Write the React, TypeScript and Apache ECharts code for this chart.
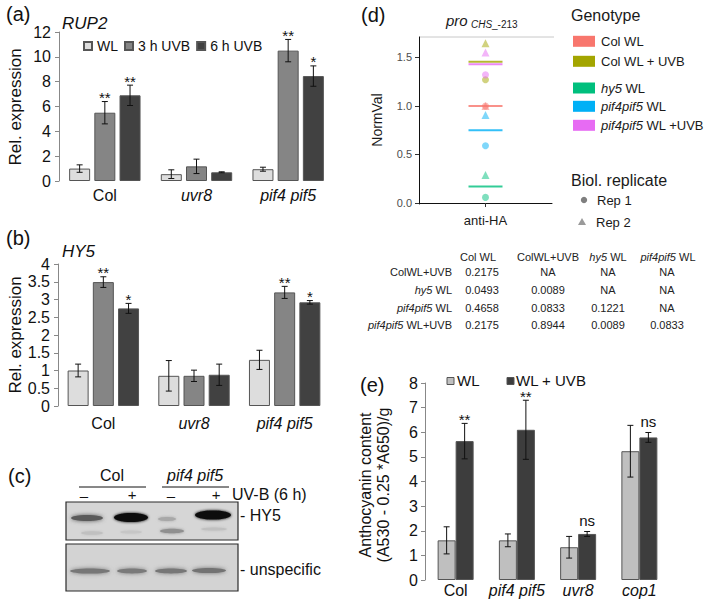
import React, { useEffect, useRef } from "react";
import * as echarts from "echarts";

const FONT = "'Liberation Sans', Arial, Helvetica, sans-serif";

// ---------- (a) RUP2 / (b) HY5 qPCR ----------
const qpcrCategories = ["Col", "uvr8", "pif4 pif5"];
const qpcrSeriesNames = ["WL", "3 h UVB", "6 h UVB"];
const qpcrColors = ["#dddddd", "#858585", "#414141"];

const rup2WL = [1.0, 0.55, 0.95];
const rup2UVB3 = [5.5, 1.18, 10.5];
const rup2UVB6 = [6.9, 0.7, 8.45];
const rup2ErrWL = [0.3, 0.35, 0.16];
const rup2ErrUVB3 = [0.9, 0.58, 0.9];
const rup2ErrUVB6 = [0.82, 0.04, 0.82];
const rup2MarksUVB3 = ["**", "", "**"];
const rup2MarksUVB6 = ["**", "", "*"];

const hy5WL = [1.0, 0.85, 1.3];
const hy5UVB3 = [3.49, 0.85, 3.2];
const hy5UVB6 = [2.75, 0.88, 2.92];
const hy5ErrWL = [0.18, 0.43, 0.27];
const hy5ErrUVB3 = [0.15, 0.16, 0.17];
const hy5ErrUVB6 = [0.14, 0.3, 0.05];
const hy5MarksUVB3 = ["**", "", "**"];
const hy5MarksUVB6 = ["*", "", "*"];

// ---------- (d) ChIP ----------
const chipCategory = ["anti-HA"];
const genotypes = ["Col WL", "Col WL + UVB", "hy5 WL", "pif4pif5 WL", "pif4pif5 WL +UVB"];
const genotypeColors = ["#F8766D", "#A3A500", "#00BF7D", "#00B0F6", "#E76BF3"];
const chipRep1 = [1.0, 1.27, 0.058, 0.59, 1.32];
const chipRep2 = [1.0, 1.646, 0.289, 0.907, 1.55];
const chipMeans = [1.0, 1.455, 0.17, 0.75, 1.43];
const chipTicks = [0, 0.5, 1.0, 1.5];

const tableHeaders = ["Col WL", "ColWL+UVB", "hy5 WL", "pif4pif5 WL"];
const tableRows = ["ColWL+UVB", "hy5 WL", "pif4pif5 WL", "pif4pif5 WL+UVB"];
const tableValues = [
  ["0.2175", "NA", "NA", "NA"],
  ["0.0493", "0.0089", "NA", "NA"],
  ["0.4658", "0.0833", "0.1221", "NA"],
  ["0.2175", "0.8944", "0.0089", "0.0833"],
];

// ---------- (e) Anthocyanin ----------
const anthoCategories = ["Col", "pif4 pif5", "uvr8", "cop1"];
const anthoSeriesNames = ["WL", "WL + UVB"];
const anthoColors = ["#bfbfbf", "#3d3d3d"];
const anthoWL = [1.61, 1.61, 1.33, 5.23];
const anthoErrWL = [0.55, 0.26, 0.44, 1.05];
const anthoUVB = [5.64, 6.1, 1.87, 5.79];
const anthoErrUVB = [0.72, 1.2, 0.1, 0.2];
const anthoMarksUVB = ["**", "**", "ns", "ns"];
const anthoMarksWL = ["", "", "", ""];

function errSeries(
  xi: number,
  yi: number,
  values: number[],
  errs: number[],
  marks: string[],
  offset: number,
  cap: number
) {
  return {
    type: "custom",
    xAxisIndex: xi,
    yAxisIndex: yi,
    z: 10,
    encode: { x: 0, y: 1 },
    data: values.map((v, i) => [i, v, errs[i]]),
    renderItem: (params: any, api: any) => {
      const i = api.value(0);
      const v = api.value(1);
      const e = api.value(2);
      const top = api.coord([i, v + e]);
      const bot = api.coord([i, v - e]);
      const x = top[0] + offset;
      const ls = { stroke: "#111", lineWidth: 1 };
      const children: any[] = [
        { type: "line", shape: { x1: x, y1: top[1], x2: x, y2: bot[1] }, style: ls },
        { type: "line", shape: { x1: x - cap, y1: top[1], x2: x + cap, y2: top[1] }, style: ls },
        { type: "line", shape: { x1: x - cap, y1: bot[1], x2: x + cap, y2: bot[1] }, style: ls },
      ];
      const m = marks[params.dataIndex];
      if (m) {
        children.push({
          type: "text",
          style: {
            text: m,
            x,
            y: top[1] + (m === "ns" ? -11 : -4),
            align: "center",
            verticalAlign: "middle",
            fontSize: 15,
            fontFamily: FONT,
            fill: "#111",
          },
        });
      }
      return { type: "group", children };
    },
  };
}

const italicRich = (fs: number) => ({
  i: { fontStyle: "italic", fontSize: fs, fontFamily: FONT, color: "#111" },
});

const catLabel = (fs: number, margin: number) => ({
  margin,
  interval: 0,
  fontSize: fs,
  fontFamily: FONT,
  color: "#111",
  formatter: (v: string) => (v === "Col" ? v : `{i|${v}}`),
  rich: italicRich(fs),
});

const valueAxis = (gi: number, min: number, max: number, interval: number) => ({
  gridIndex: gi,
  type: "value",
  min,
  max,
  interval,
  axisLine: { show: true, lineStyle: { color: "#888" } },
  axisTick: { show: true, length: 4, lineStyle: { color: "#888" } },
  axisLabel: { fontSize: 16, color: "#111", fontFamily: FONT, margin: 8 },
  splitLine: { show: false },
});

const gRich = (fs: number, fill = "#1a1a1a") => ({
  i: { fontStyle: "italic", fontSize: fs, fontFamily: FONT, fill },
});
const richify = (s: string) => s.replace(/(hy5|pif4pif5)/g, "{i|$1}");

const txt = (text: string, x: number, y: number, extra: any = {}, el: any = {}) => ({
  type: "text",
  x,
  y,
  ...el,
  style: {
    text,
    fontSize: 16,
    fontFamily: FONT,
    fill: "#111",
    align: "left",
    verticalAlign: "middle",
    ...extra,
  },
});

export default function App() {
  const ref = useRef<HTMLDivElement>(null);

  useEffect(() => {
    if (!ref.current) return;
    const chart = echarts.init(ref.current, undefined, { renderer: "svg" });

    const barCommon = (xi: number, yi: number, color: string, name: string, data: number[], bw: number, gap: string) => ({
      type: "bar",
      name,
      xAxisIndex: xi,
      yAxisIndex: yi,
      data,
      barWidth: bw,
      barGap: gap,
      itemStyle: { color, borderColor: "#555", borderWidth: 1 },
    });

    const qOff = 25.2;
    const series: any[] = [
      // (a)
      barCommon(0, 0, qpcrColors[0], qpcrSeriesNames[0], rup2WL, 21, "20%"),
      barCommon(0, 0, qpcrColors[1], qpcrSeriesNames[1], rup2UVB3, 21, "20%"),
      barCommon(0, 0, qpcrColors[2], qpcrSeriesNames[2], rup2UVB6, 21, "20%"),
      errSeries(0, 0, rup2WL, rup2ErrWL, ["", "", ""], -qOff, 3),
      errSeries(0, 0, rup2UVB3, rup2ErrUVB3, rup2MarksUVB3, 0, 3),
      errSeries(0, 0, rup2UVB6, rup2ErrUVB6, rup2MarksUVB6, qOff, 3),
      // (b)
      barCommon(1, 1, qpcrColors[0], qpcrSeriesNames[0], hy5WL, 21, "20%"),
      barCommon(1, 1, qpcrColors[1], qpcrSeriesNames[1], hy5UVB3, 21, "20%"),
      barCommon(1, 1, qpcrColors[2], qpcrSeriesNames[2], hy5UVB6, 21, "20%"),
      errSeries(1, 1, hy5WL, hy5ErrWL, ["", "", ""], -qOff, 3),
      errSeries(1, 1, hy5UVB3, hy5ErrUVB3, hy5MarksUVB3, 0, 3),
      errSeries(1, 1, hy5UVB6, hy5ErrUVB6, hy5MarksUVB6, qOff, 3),
      // (e)
      barCommon(3, 3, anthoColors[0], anthoSeriesNames[0], anthoWL, 18, "0%"),
      barCommon(3, 3, anthoColors[1], anthoSeriesNames[1], anthoUVB, 18, "0%"),
      errSeries(3, 3, anthoWL, anthoErrWL, anthoMarksWL, -9, 3),
      errSeries(3, 3, anthoUVB, anthoErrUVB, anthoMarksUVB, 9, 3),
      // (d) means
      {
        type: "scatter",
        xAxisIndex: 2,
        yAxisIndex: 2,
        symbol: "rect",
        symbolSize: [34, 2],
        z: 2,
        data: chipMeans.map((m, i) => ({ value: [chipCategory[0], m], itemStyle: { color: genotypeColors[i] } })),
      },
      // (d) points
      ...genotypes.map((g, i) => ({
        type: "scatter",
        name: g,
        xAxisIndex: 2,
        yAxisIndex: 2,
        z: 3,
        itemStyle: { color: genotypeColors[i], opacity: 0.5 },
        data: [
          { value: [chipCategory[0], chipRep2[i]], symbol: "triangle", symbolSize: 8 },
          { value: [chipCategory[0], chipRep1[i]], symbol: "circle", symbolSize: 7 },
        ],
      })),
    ];

    const blot: any[] = [
      { type: "rect", shape: { x: 66, y: 502, width: 172, height: 38 }, style: { fill: "#d6d6d6", stroke: "#2a2a2a", lineWidth: 1.2 } },
      { type: "rect", shape: { x: 66, y: 544, width: 172, height: 47 }, style: { fill: "#d3d3d3", stroke: "#2a2a2a", lineWidth: 1.2 } },
    ];
    const band = (cx: number, cy: number, rx: number, ry: number, fill: string, blur = 3) => ({
      type: "ellipse",
      shape: { cx, cy, rx, ry },
      style: { fill, shadowBlur: blur, shadowColor: fill },
    });
    blot.push(
      band(87, 518, 16, 3, "#5a5a5a", 4),
      band(131, 517.5, 17, 4.5, "#111111"),
      band(167, 519, 9, 2, "#a8a8a8"),
      band(213, 515, 18, 4.5, "#111111"),
      band(92, 533, 11, 1.8, "#c0c0c0"),
      band(131, 532, 11, 1.6, "#c6c6c6"),
      band(172, 531, 12, 2.3, "#909090"),
      band(214, 529, 13, 1.6, "#c0c0c0"),
      band(90, 571, 20, 2.6, "#777777", 4),
      band(132, 571, 15, 2.4, "#7a7a7a", 4),
      band(171, 571, 16, 2.4, "#777777", 4),
      band(209, 570.5, 17, 2.6, "#737373", 4)
    );

    const graphics: any[] = [
      // panel letters
      txt("(a)", 6, 14, { fontSize: 20 }),
      txt("(b)", 6, 238, { fontSize: 20 }),
      txt("(c)", 8, 476, { fontSize: 20 }),
      txt("(d)", 361, 15, { fontSize: 20 }),
      txt("(e)", 360, 385, { fontSize: 20 }),
      // gene names
      txt("RUP2", 62, 23, { fontSize: 17, fontStyle: "italic" }),
      txt("HY5", 62, 251, { fontSize: 17, fontStyle: "italic" }),
      // y axis titles
      txt("Rel. expression", 15, 107, { fontSize: 17, align: "center" }, { rotation: Math.PI / 2 }),
      txt("Rel. expression", 15, 335, { fontSize: 17, align: "center" }, { rotation: Math.PI / 2 }),
      txt("NormVal", 377, 120, { fontSize: 14, align: "center", fill: "#1a1a1a" }, { rotation: Math.PI / 2 }),
      txt("Anthocyanin content\n(A530 - 0.25 *A650)/g", 374, 485, { fontSize: 16, align: "center", lineHeight: 18 }, { rotation: Math.PI / 2 }),
      // (e) legend
      { type: "rect", shape: { x: 447, y: 377.5, width: 7, height: 7 }, style: { fill: anthoColors[0], stroke: "#555", lineWidth: 1 } },
      txt(anthoSeriesNames[0], 457, 380.5, { fontSize: 15 }),
      { type: "rect", shape: { x: 507, y: 377.5, width: 7, height: 7 }, style: { fill: anthoColors[1], stroke: "#555", lineWidth: 1 } },
      txt(anthoSeriesNames[1], 516, 380.5, { fontSize: 15 }),
      // (c) blot annotations
      txt("Col", 112, 475, { align: "center" }),
      txt("pif4 pif5", 195, 475, { align: "center", fontStyle: "italic" }),
      { type: "line", shape: { x1: 79, y1: 487, x2: 146, y2: 487 }, style: { stroke: "#111", lineWidth: 1 } },
      { type: "line", shape: { x1: 162, y1: 487, x2: 229, y2: 487 }, style: { stroke: "#111", lineWidth: 1 } },
      txt("–", 84, 495, { align: "center", fontSize: 15 }),
      txt("+", 132, 494, { align: "center", fontSize: 15 }),
      txt("–", 171, 495, { align: "center", fontSize: 15 }),
      txt("+", 216, 494, { align: "center", fontSize: 15 }),
      txt("UV-B (6 h)", 232, 494),
      txt("- HY5", 240, 515),
      txt("- unspecific", 240, 569),
      ...blot,
      // (d) title & frame top
      txt("pro", 446, 20, { fontSize: 15, fontStyle: "italic", fill: "#1a1a1a" }),
      txt("CHS", 471, 24, { fontSize: 10, fontStyle: "italic", fill: "#1a1a1a" }),
      txt("_-213", 492, 24, { fontSize: 10, fill: "#1a1a1a" }),
      { type: "line", shape: { x1: 419, y1: 37, x2: 554, y2: 37 }, style: { stroke: "#c8c8c8", lineWidth: 1 } },
      // (d) legend
      txt("Genotype", 571, 15, { fontSize: 16, fill: "#1a1a1a" }),
      ...genotypes.flatMap((g, i) => {
        const ys = [41.3, 61.3, 88, 106.3, 125.3];
        return [
          { type: "rect", shape: { x: 573, y: ys[i] - 5.5, width: 22, height: 11 }, style: { fill: genotypeColors[i] } },
          txt(richify(g), 601, ys[i], { fontSize: 13, fill: "#1a1a1a", rich: gRich(13) }),
        ];
      }),
      txt("Biol. replicate", 571, 180, { fontSize: 16, fill: "#1a1a1a" }),
      { type: "circle", shape: { cx: 584, cy: 200, r: 3.2 }, style: { fill: "#7f7f7f" } },
      txt("Rep 1", 597, 200, { fontSize: 13, fill: "#1a1a1a" }),
      { type: "polygon", shape: { points: [[582, 218], [586, 225], [578, 225]] }, style: { fill: "#9a9a9a" } },
      txt("Rep 2", 596, 222, { fontSize: 13, fill: "#1a1a1a" }),
      // (d) table
      ...tableHeaders.map((h, j) => {
        const cx = [478, 548, 608, 668][j];
        return txt(richify(h), cx, 257, { fontSize: 11, align: "center", fill: "#222", rich: gRich(11, "#222") });
      }),
      ...tableRows.map((r, k) => {
        const y = [272.3, 290, 308.3, 325][k];
        return txt(richify(r), 452, y, { fontSize: 11, align: "right", fill: "#222", rich: gRich(11, "#222") });
      }),
      ...tableValues.flatMap((row, k) => {
        const y = [272.3, 290, 308.3, 325][k];
        return row.map((v, j) => txt(v, [482, 548, 608, 667][j], y, { fontSize: 11, align: "center", fill: "#222" }));
      }),
    ];

    const option: any = {
      animation: false,
      backgroundColor: "#ffffff",
      grid: [
        { left: 59, top: 32, width: 275, height: 149 },
        { left: 58, top: 264, width: 272, height: 142 },
        { left: 419, top: 37, width: 133, height: 167 },
        { left: 425, top: 383, width: 245, height: 197 },
      ],
      legend: [
        {
          left: 83,
          top: 39,
          padding: 0,
          itemWidth: 8,
          itemHeight: 8,
          itemGap: 6,
          icon: "rect",
          selectedMode: false,
          data: qpcrSeriesNames,
          textStyle: { fontSize: 14, fontFamily: FONT, color: "#111" },
        },
      ],
      xAxis: [
        { gridIndex: 0, type: "category", data: qpcrCategories, axisLine: { show: false }, axisTick: { show: false }, axisLabel: catLabel(16, 6) },
        { gridIndex: 1, type: "category", data: qpcrCategories, axisLine: { show: false }, axisTick: { show: false }, axisLabel: catLabel(16, 9) },
        {
          gridIndex: 2,
          type: "category",
          data: chipCategory,
          axisLine: { show: true, lineStyle: { color: "#111" } },
          axisTick: { show: true, alignWithLabel: true, length: 4, lineStyle: { color: "#333" } },
          axisLabel: { fontSize: 13, fontFamily: FONT, color: "#1a1a1a", margin: 10, interval: 0 },
        },
        { gridIndex: 3, type: "category", data: anthoCategories, axisLine: { show: false }, axisTick: { show: false }, axisLabel: catLabel(16, 2) },
      ],
      yAxis: [
        valueAxis(0, 0, 12, 2),
        valueAxis(1, 0, 4, 0.5),
        {
          gridIndex: 2,
          type: "value",
          min: -0.01,
          max: 1.71,
          axisLine: { show: true, lineStyle: { color: "#111" } },
          axisTick: { show: true, length: 4, lineStyle: { color: "#333" }, customValues: chipTicks },
          axisLabel: { fontSize: 11, color: "#4d4d4d", fontFamily: FONT, margin: 7, customValues: chipTicks, formatter: (v: number) => v.toFixed(1) },
          splitLine: { show: false },
        },
        { ...valueAxis(3, 0, 8, 1), axisLabel: { fontSize: 16, color: "#111", fontFamily: FONT, margin: 7 } },
      ],
      series,
      graphic: graphics,
    };

    chart.setOption(option);
    return () => chart.dispose();
  }, []);

  return (
    <div
      ref={ref}
      style={{ position: "absolute", left: 0, top: 0, width: 709, height: 601, background: "#fff" }}
    />
  );
}
